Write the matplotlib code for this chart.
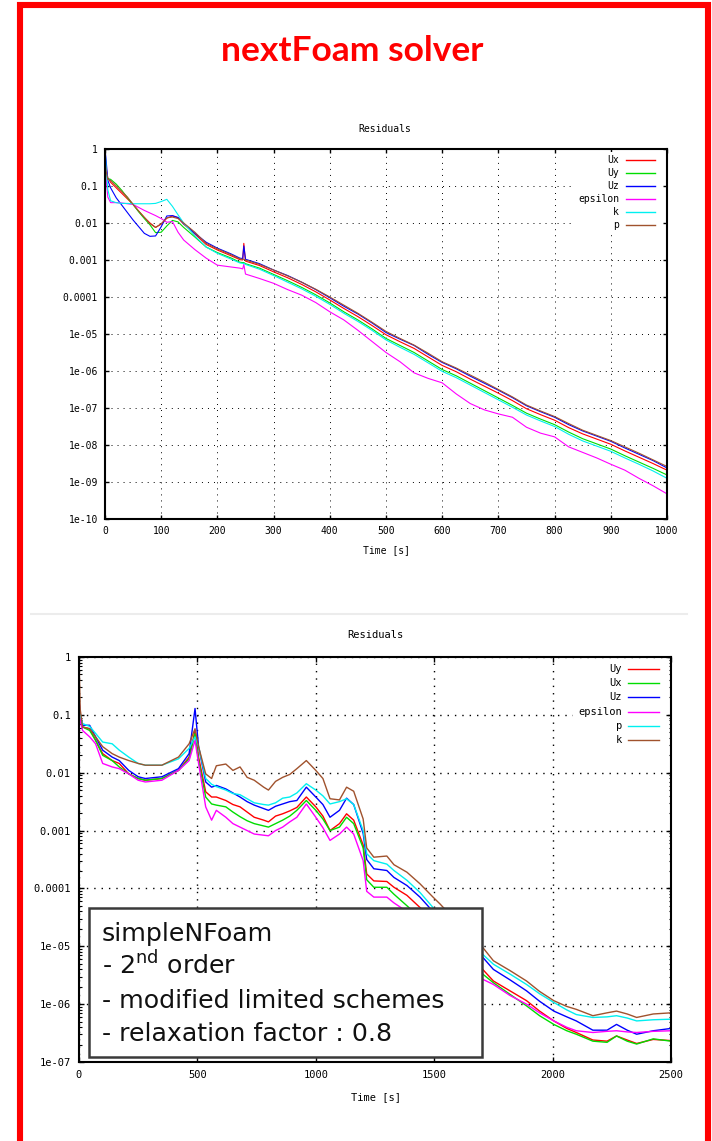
# RESIDUALES - nextFoam solver (dos gráficos tipo gnuplot)

import numpy as np
import matplotlib
matplotlib.use('Agg')
import matplotlib.pyplot as plt
from matplotlib.lines import Line2D
from matplotlib.patches import Rectangle
from matplotlib.ticker import LogLocator, NullLocator, NullFormatter


# --------------------------
# Datos: exponentes log10 de los residuales
# --------------------------

# Gráfico superior (0 - 1000 s)
tiempo_sup = [0, 2, 5, 10, 20, 30, 40, 50, 60, 70, 80, 90, 100, 110, 120, 130, 140,
              160, 180, 200, 225, 240, 245, 247, 250, 275, 300, 325, 350, 375, 400,
              425, 450, 475, 500, 525, 550, 575, 600, 625, 650, 675, 700, 725, 750,
              775, 800, 825, 850, 875, 900, 925, 950, 975, 1000]

ux_sup = [-0.2, -0.5, -0.78, -0.90, -1.05, -1.20, -1.35, -1.50, -1.68, -1.85, -2.00, -2.12,
          -2.03, -1.87, -1.81, -1.86, -2.03, -2.30, -2.58, -2.73, -2.89, -2.99, -3.00, -2.55,
          -3.03, -3.15, -3.32, -3.48, -3.66, -3.86, -4.08, -4.31, -4.53, -4.77, -5.02, -5.21,
          -5.39, -5.62, -5.85, -6.02, -6.22, -6.41, -6.60, -6.80, -7.02, -7.18, -7.33, -7.53,
          -7.70, -7.84, -7.98, -8.16, -8.33, -8.50, -8.68]

uy_sup = [-0.5, -0.7, -0.80, -0.82, -0.95, -1.12, -1.32, -1.50, -1.70, -1.88, -2.05, -2.26,
          -2.25, -2.08, -1.93, -1.97, -2.12, -2.38, -2.65, -2.80, -2.95, -3.06, -3.07, -3.07,
          -3.10, -3.22, -3.39, -3.56, -3.74, -3.94, -4.16, -4.40, -4.62, -4.86, -5.12, -5.31,
          -5.50, -5.73, -5.96, -6.13, -6.33, -6.53, -6.73, -6.93, -7.14, -7.30, -7.45, -7.65,
          -7.83, -7.97, -8.11, -8.29, -8.46, -8.63, -8.81]

uz_sup = [0.0, -0.3, -0.85, -1.05, -1.32, -1.52, -1.72, -1.92, -2.10, -2.28, -2.36, -2.35,
          -2.10, -1.81, -1.80, -1.85, -2.02, -2.28, -2.52, -2.68, -2.84, -2.95, -2.96, -2.62,
          -2.98, -3.10, -3.27, -3.42, -3.60, -3.80, -4.02, -4.25, -4.46, -4.70, -4.96, -5.14,
          -5.31, -5.55, -5.77, -5.94, -6.14, -6.33, -6.52, -6.72, -6.94, -7.10, -7.25, -7.45,
          -7.62, -7.76, -7.90, -8.08, -8.25, -8.42, -8.62]

eps_sup = [-0.4, -0.8, -1.3, -1.45, -1.45, -1.46, -1.48, -1.50, -1.58, -1.66, -1.73, -1.80,
           -1.88, -1.98, -1.96, -2.25, -2.46, -2.72, -2.95, -3.14, -3.19, -3.22, -3.24, -3.12,
           -3.38, -3.50, -3.63, -3.80, -3.95, -4.15, -4.40, -4.62, -4.90, -5.20, -5.50, -5.75,
           -6.05, -6.20, -6.32, -6.62, -6.88, -7.05, -7.16, -7.25, -7.52, -7.68, -7.78, -8.05,
           -8.20, -8.35, -8.52, -8.68, -8.90, -9.10, -9.32]

k_sup = [0.0, -0.5, -1.1, -1.40, -1.45, -1.47, -1.47, -1.48, -1.48, -1.48, -1.48, -1.47,
         -1.42, -1.36, -1.55, -1.78, -2.00, -2.35, -2.65, -2.82, -2.98, -3.08, -3.09, -3.09,
         -3.12, -3.25, -3.42, -3.60, -3.78, -3.98, -4.20, -4.44, -4.66, -4.90, -5.16, -5.36,
         -5.55, -5.78, -6.01, -6.18, -6.38, -6.58, -6.78, -6.98, -7.19, -7.35, -7.50, -7.71,
         -7.89, -8.03, -8.17, -8.35, -8.52, -8.70, -8.90]

p_sup = [-0.3, -0.6, -0.82, -0.85, -1.0, -1.15, -1.30, -1.50, -1.68, -1.85, -2.02, -2.12,
         -2.02, -1.86, -1.84, -1.88, -2.00, -2.25, -2.55, -2.70, -2.86, -2.97, -2.98, -2.98,
         -3.00, -3.12, -3.27, -3.43, -3.60, -3.79, -4.00, -4.22, -4.44, -4.68, -4.93, -5.12,
         -5.30, -5.52, -5.75, -5.92, -6.11, -6.30, -6.50, -6.70, -6.92, -7.08, -7.23, -7.42,
         -7.60, -7.74, -7.88, -8.05, -8.22, -8.40, -8.58]

# Gráfico inferior (0 - 2500 s)
tiempo_inf = [0, 5, 15, 45, 70, 100, 140, 170, 210, 250, 280, 350, 420, 465, 490, 505,
              535, 560, 580, 620, 650, 680, 710, 740, 780, 800, 830, 860, 890, 920, 960,
              1000, 1030, 1060, 1100, 1130, 1160, 1200, 1215, 1245, 1300, 1330, 1385, 1440,
              1495, 1525, 1600, 1705, 1750, 1820, 1890, 1945, 2005, 2060, 2100, 2170, 2230,
              2270, 2315, 2355, 2425, 2500]

uy_inf = [-0.75, -1.0, -1.21, -1.24, -1.44, -1.67, -1.79, -1.84, -2.02, -2.10, -2.13, -2.10,
          -1.96, -1.73, -1.27, -1.73, -2.33, -2.42, -2.42, -2.48, -2.55, -2.59, -2.68, -2.77,
          -2.82, -2.85, -2.75, -2.71, -2.66, -2.60, -2.42, -2.59, -2.75, -3.00, -2.88, -2.71,
          -2.82, -3.25, -3.75, -3.87, -3.88, -3.98, -4.12, -4.33, -4.55, -4.65, -4.95, -5.40,
          -5.60, -5.77, -5.94, -6.12, -6.29, -6.42, -6.49, -6.62, -6.64, -6.55, -6.62, -6.68,
          -6.61, -6.63]

ux_inf = [-0.86, -1.0, -1.21, -1.27, -1.44, -1.70, -1.79, -1.90, -2.02, -2.10, -2.13, -2.10,
          -1.96, -1.76, -1.32, -1.79, -2.42, -2.54, -2.56, -2.59, -2.68, -2.76, -2.83, -2.88,
          -2.92, -2.94, -2.88, -2.82, -2.75, -2.65, -2.48, -2.65, -2.80, -3.00, -2.94, -2.77,
          -2.88, -3.30, -3.85, -3.98, -3.98, -4.10, -4.30, -4.50, -4.68, -4.78, -5.05, -5.48,
          -5.63, -5.83, -6.03, -6.20, -6.35, -6.46, -6.52, -6.64, -6.66, -6.55, -6.64, -6.69,
          -6.60, -6.64]

uz_inf = [-0.75, -1.0, -1.18, -1.18, -1.38, -1.61, -1.73, -1.79, -1.96, -2.07, -2.10, -2.07,
          -1.93, -1.67, -0.89, -1.55, -2.16, -2.25, -2.22, -2.28, -2.35, -2.42, -2.50, -2.56,
          -2.62, -2.65, -2.58, -2.54, -2.50, -2.48, -2.25, -2.42, -2.55, -2.77, -2.65, -2.44,
          -2.55, -3.05, -3.50, -3.66, -3.69, -3.81, -3.95, -4.15, -4.40, -4.50, -4.80, -5.19,
          -5.40, -5.58, -5.77, -5.95, -6.12, -6.22, -6.29, -6.45, -6.45, -6.35, -6.45, -6.52,
          -6.46, -6.42]

eps_inf = [-0.66, -1.1, -1.27, -1.38, -1.50, -1.84, -1.90, -1.93, -2.02, -2.13, -2.16, -2.13,
           -1.96, -1.79, -1.44, -1.84, -2.59, -2.82, -2.65, -2.77, -2.88, -2.94, -3.00, -3.06,
           -3.08, -3.09, -3.00, -2.94, -2.85, -2.77, -2.54, -2.77, -2.95, -3.17, -3.06, -2.94,
           -3.06, -3.52, -4.05, -4.15, -4.15, -4.25, -4.40, -4.60, -4.80, -4.90, -5.15, -5.57,
           -5.66, -5.85, -6.00, -6.15, -6.29, -6.40, -6.46, -6.49, -6.47, -6.46, -6.48, -6.49,
           -6.47, -6.46]

p_inf = [-0.80, -1.0, -1.15, -1.20, -1.32, -1.47, -1.50, -1.61, -1.73, -1.84, -1.87, -1.87,
         -1.76, -1.58, -1.38, -1.55, -2.10, -2.20, -2.24, -2.30, -2.36, -2.38, -2.45, -2.52,
         -2.55, -2.56, -2.52, -2.44, -2.42, -2.35, -2.19, -2.30, -2.40, -2.54, -2.50, -2.45,
         -2.55, -3.00, -3.40, -3.52, -3.58, -3.69, -3.86, -4.07, -4.33, -4.45, -4.75, -5.14,
         -5.31, -5.48, -5.66, -5.82, -5.97, -6.10, -6.18, -6.23, -6.22, -6.20, -6.24, -6.29,
         -6.27, -6.26]

k_inf = [0.0, -0.9, -1.21, -1.24, -1.38, -1.55, -1.67, -1.73, -1.79, -1.84, -1.87, -1.87,
         -1.73, -1.50, -1.24, -1.55, -2.02, -2.10, -1.88, -1.85, -1.96, -1.90, -2.08, -2.13,
         -2.25, -2.30, -2.15, -2.08, -2.03, -1.93, -1.79, -1.96, -2.10, -2.45, -2.47, -2.25,
         -2.32, -2.80, -3.30, -3.46, -3.44, -3.59, -3.72, -3.92, -4.15, -4.27, -4.60, -5.02,
         -5.25, -5.42, -5.60, -5.78, -5.94, -6.04, -6.09, -6.20, -6.15, -6.12, -6.17, -6.23,
         -6.17, -6.15]

# Etiquetas de ejes y leyendas
ticks_x_sup = ['0', '100', '200', '300', '400', '500', '600', '700', '800', '900', '1000']
ticks_y_sup = ['1', '0.1', '0.01', '0.001', '0.0001', '1e-05', '1e-06', '1e-07',
               '1e-08', '1e-09', '1e-10']
ticks_x_inf = ['0', '500', '1000', '1500', '2000', '2500']
ticks_y_inf = ['1', '0.1', '0.01', '0.001', '0.0001', '1e-05', '1e-06', '1e-07']

nombres_sup = ['Ux', 'Uy', 'Uz', 'epsilon', 'k', 'p']
nombres_inf = ['Uy', 'Ux', 'Uz', 'epsilon', 'p', 'k']
colores = ['#ff0000', '#00dd00', '#0000ff', '#ff00ff', '#00f0f0', '#a0522d']

texto_caja = ['simpleNFoam', r'- 2$^{\mathrm{nd}}$ order', '- modified limited schemes',
              '- relaxation factor : 0.8']


# --------------------------
# Funciones auxiliares
# --------------------------

ANCHO, ALTO = 712, 1141


def fx(px):
    return px / ANCHO


def fy(py):
    return 1 - py / ALTO


def ejes_en_pixeles(fig, izq, arriba, der, abajo):
    return fig.add_axes([fx(izq), fy(abajo), (der - izq) / ANCHO, (abajo - arriba) / ALTO])


# Estilo parecido al terminal png de gnuplot
def estilo_gnuplot(ax, etiquetas_x, etiquetas_y, tam, lw_grid, patron, largo_tick, menores):
    ax.set_yscale('log')
    ax.set_xlim(float(etiquetas_x[0]), float(etiquetas_x[-1]))
    ax.set_ylim(float(etiquetas_y[-1]), float(etiquetas_y[0]))
    ax.set_xticks([float(s) for s in etiquetas_x])
    ax.set_xticklabels(etiquetas_x)
    ax.set_yticks([float(s) for s in etiquetas_y])
    ax.set_yticklabels(etiquetas_y)
    if menores:
        ax.yaxis.set_minor_locator(LogLocator(base=10, subs=np.arange(2, 10), numticks=20))
        ax.yaxis.set_minor_formatter(NullFormatter())
    else:
        ax.yaxis.set_minor_locator(NullLocator())
    ax.xaxis.set_minor_locator(NullLocator())
    ax.tick_params(which='both', direction='in', top=True, right=True, labelsize=tam)
    ax.tick_params(which='major', length=largo_tick, width=1, pad=5)
    ax.tick_params(which='minor', length=largo_tick * 0.5, width=0.8)
    for s in ax.spines.values():
        s.set_linewidth(1.5)
    ax.grid(True, which='major', color='black', linestyle=patron, linewidth=lw_grid)
    ax.set_axisbelow(True)


def dibujar_leyenda(ax, nombres, x_texto, x_linea, y0, dy, tam, caja):
    ax.add_patch(Rectangle(caja[:2], caja[2], caja[3], transform=ax.transAxes,
                           facecolor='white', edgecolor='none', zorder=3))
    for i, (nombre, color) in enumerate(zip(nombres, colores)):
        y = y0 - i * dy
        ax.text(x_texto, y, nombre, transform=ax.transAxes, ha='right', va='center',
                fontsize=tam, zorder=4)
        ax.plot(x_linea, [y, y], transform=ax.transAxes, color=color, lw=1, zorder=4)


# --------------------------
# Programa principal
# --------------------------

plt.rcParams['font.family'] = 'DejaVu Sans Mono'

fig = plt.figure(figsize=(7.12, 11.41), dpi=100)

# Marco rojo y título
fig.add_artist(Line2D([fx(20), fx(20), fx(707.5), fx(707.5)],
                      [fy(1150), fy(4.5), fy(4.5), fy(1150)],
                      color='#ff0000', lw=4.4, solid_joinstyle='miter'))
fig.text(fx(352), fy(51), 'nextFoam solver', ha='center', va='center', fontsize=25.5,
         fontweight='bold', color='#ff0000', family=['Lato', 'DejaVu Sans'])
fig.add_artist(Line2D([fx(31), fx(687)], [fy(614), fy(614)], color='#ececec', lw=1.5))

# Gráfico superior
ax1 = ejes_en_pixeles(fig, 105, 149, 667, 519)
series_sup = [ux_sup, uy_sup, uz_sup, eps_sup, k_sup, p_sup]
for valores, color in zip(series_sup, colores):
    ax1.plot(tiempo_sup, 10.0 ** np.array(valores), color=color, lw=0.8)
estilo_gnuplot(ax1, ticks_x_sup, ticks_y_sup, 7, 0.7, (0, (1, 5.2)), 3, False)
dibujar_leyenda(ax1, nombres_sup, 0.9146, [0.927, 0.9786], 0.9703, 0.0351, 7,
                (0.833, 0.776, 0.16, 0.216))
fig.text(fx(385), fy(129), 'Residuals', ha='center', va='center', fontsize=7)
fig.text(fx(386), fy(550), 'Time [s]', ha='center', va='center', fontsize=7)

# Gráfico inferior
ax2 = ejes_en_pixeles(fig, 79, 657, 671, 1062)
series_inf = [uy_inf, ux_inf, uz_inf, eps_inf, p_inf, k_inf]
for valores, color in zip(series_inf, colores):
    ax2.plot(tiempo_inf, 10.0 ** np.array(valores), color=color, lw=1.0)
estilo_gnuplot(ax2, ticks_x_inf, ticks_y_inf, 7.5, 1.0, (0, (1, 4.3)), 3.6, True)
ax2.tick_params(which='major', pad=6)
dibujar_leyenda(ax2, nombres_inf, 0.917, [0.927, 0.98], 0.9704, 0.035, 7.5,
                (0.834, 0.775, 0.155, 0.217))
fig.text(fx(375), fy(635), 'Residuals', ha='center', va='center', fontsize=7.5)
fig.text(fx(376), fy(1097), 'Time [s]', ha='center', va='center', fontsize=7.5)

# Caja de texto sobre el gráfico inferior
fig.add_artist(Rectangle((fx(89), fy(1057)), (482 - 89) / ANCHO, (1057 - 908) / ALTO,
                         transform=fig.transFigure, facecolor='white', edgecolor='#3a3a3a',
                         lw=1.8, zorder=4))
for i, linea in enumerate(texto_caja):
    fig.text(fx(102), fy(941 + 33.3 * i), linea, ha='left', va='baseline', fontsize=18.2,
             color='#111111', family='DejaVu Sans', zorder=5)

fig.savefig('out.png', dpi=100)
